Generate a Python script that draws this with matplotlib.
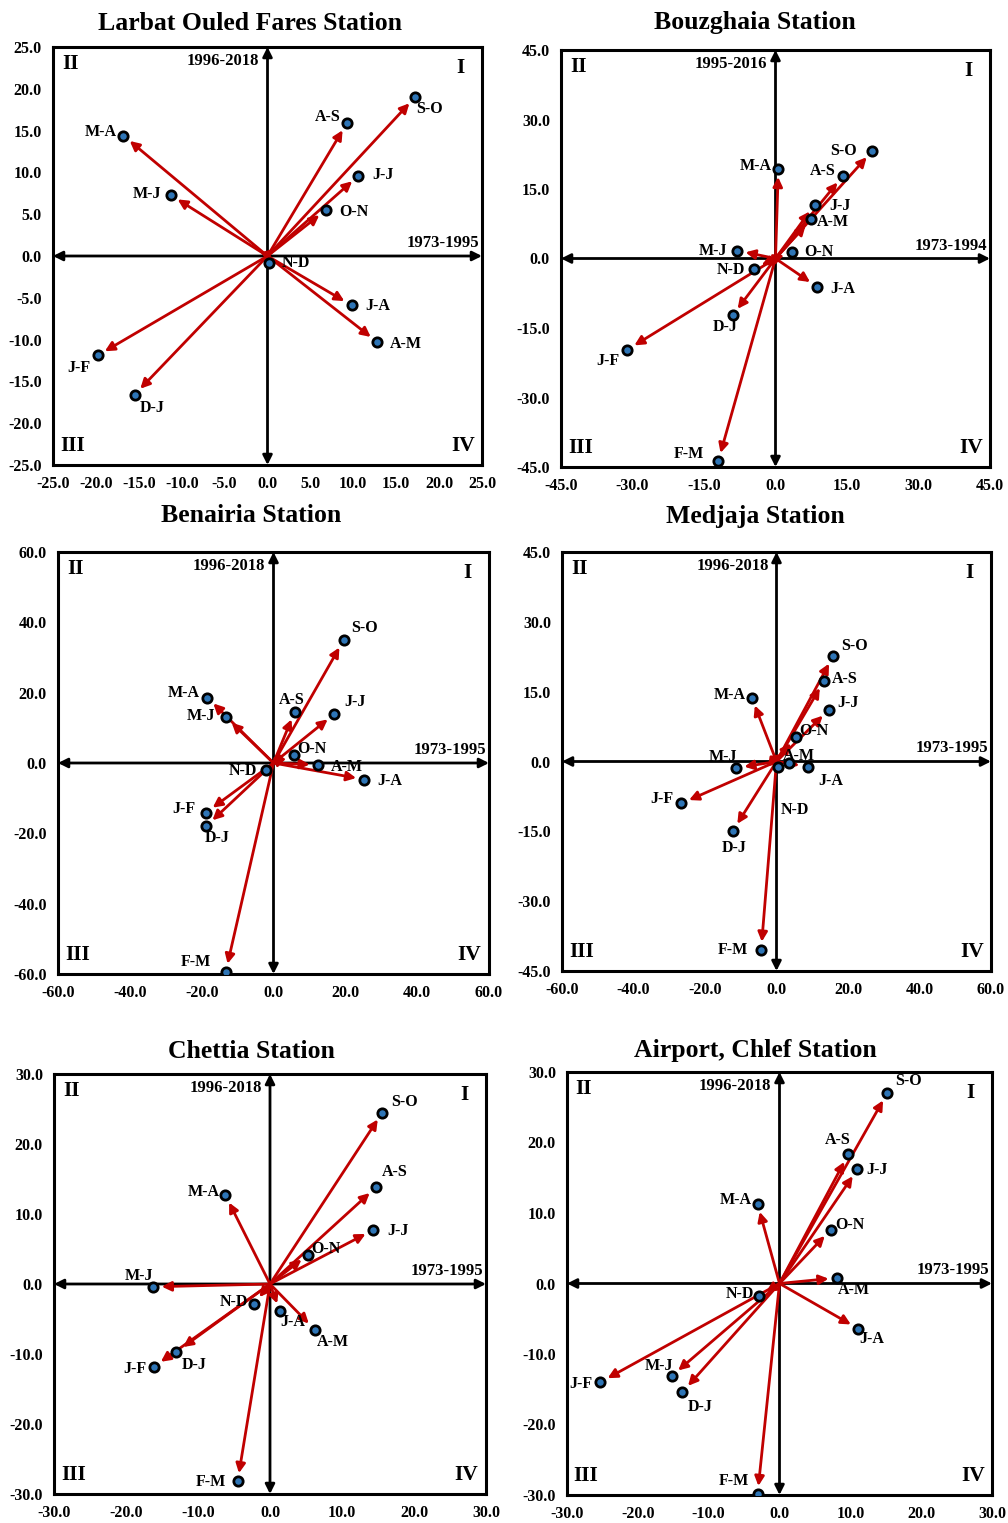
import numpy as np
import matplotlib.pyplot as plt

plt.rcParams['font.family'] = ['Liberation Serif', 'DejaVu Serif']
plt.rcParams['font.weight'] = 'bold'

# two-month pairs, change in 1973-1995 (x) vs later period (y)
larbat_pairs = ['J-F', 'M-A', 'A-M', 'M-J', 'J-J', 'J-A', 'A-S', 'S-O', 'O-N', 'N-D', 'D-J']
larbat_x = [-19.8, -16.8, 12.8, -11.3, 10.6, 9.8, 9.25, 17.2, 6.8, 0.2, -15.5]
larbat_y = [-11.9, 14.4, -10.3, 7.3, 9.6, -5.9, 15.9, 19.0, 5.5, -0.8, -16.6]

bouz_pairs = ['J-F', 'F-M', 'M-A', 'A-M', 'M-J', 'J-J', 'J-A', 'A-S', 'S-O', 'O-N', 'N-D', 'D-J']
bouz_x = [-31.1, -12.0, 0.6, 7.5, -8.0, 8.2, 8.7, 14.1, 20.3, 3.4, -4.5, -9.0]
bouz_y = [-19.7, -43.7, 19.4, 8.5, 1.7, 11.6, -6.1, 17.8, 23.2, 1.4, -2.2, -12.3]

bena_pairs = ['J-F', 'F-M', 'M-A', 'A-M', 'M-J', 'J-J', 'J-A', 'A-S', 'S-O', 'O-N', 'N-D', 'D-J']
bena_x = [-18.8, -13.3, -18.4, 12.4, -13.3, 16.9, 25.3, 5.9, 19.5, 5.7, -2.0, -18.7]
bena_y = [-14.1, -59.4, 18.6, -0.5, 13.1, 13.9, -4.7, 14.6, 34.9, 2.2, -1.9, -17.9]

medj_pairs = ['J-F', 'F-M', 'M-A', 'A-M', 'M-J', 'J-J', 'J-A', 'A-S', 'S-O', 'O-N', 'N-D', 'D-J']
medj_x = [-26.6, -4.3, -6.9, 3.6, -11.3, 14.6, 8.7, 13.3, 15.8, 5.4, 0.3, -12.2]
medj_y = [-9.0, -40.5, 13.7, -0.4, -1.4, 11.1, -1.1, 17.3, 22.6, 5.3, -1.2, -14.9]

chet_pairs = ['J-F', 'F-M', 'M-A', 'A-M', 'M-J', 'J-J', 'J-A', 'A-S', 'S-O', 'O-N', 'N-D', 'D-J']
chet_x = [-16.1, -4.5, -6.2, 6.2, -16.2, 14.3, 1.4, 14.7, 15.6, 5.3, -2.2, -13.0]
chet_y = [-11.8, -28.2, 12.7, -6.5, -0.4, 7.7, -3.9, 13.8, 24.5, 4.2, -2.8, -9.7]

chlef_pairs = ['J-F', 'F-M', 'M-A', 'A-M', 'M-J', 'J-J', 'J-A', 'A-S', 'S-O', 'O-N', 'N-D', 'D-J']
chlef_x = [-25.3, -3.1, -3.1, 8.1, -15.2, 11.0, 11.1, 9.7, 15.2, 7.2, -2.9, -13.7]
chlef_y = [-14.0, -29.9, 11.3, 0.8, -13.1, 16.2, -6.4, 18.3, 27.0, 7.6, -1.8, -15.4]

# label offsets in pixels (right, up)
larbat_off = {'J-F': (-19, -13), 'M-A': (-23, 4), 'A-M': (29, -2), 'M-J': (-24, 1),
              'J-J': (25, 1), 'J-A': (26, -1), 'A-S': (-19, 6), 'S-O': (14, -12),
              'O-N': (28, -2), 'N-D': (27, 0), 'D-J': (18, -13)}
bouz_off = {'J-F': (-19, -11), 'F-M': (-29, 7), 'M-A': (-23, 3), 'A-M': (22, -3),
            'M-J': (-24, 0), 'J-J': (25, -1), 'J-A': (26, -2), 'A-S': (-20, 5),
            'S-O': (-29, 0), 'O-N': (27, 0), 'N-D': (-23, -1), 'D-J': (-7, -12)}
bena_off = {'J-F': (-22, 4), 'F-M': (-30, 10), 'M-A': (-24, 5), 'A-M': (29, -2),
            'M-J': (-25, 1), 'J-J': (21, 12), 'J-A': (25, -1), 'A-S': (-3, 12),
            'S-O': (21, 12), 'O-N': (18, 6), 'N-D': (-23, -1), 'D-J': (11, -12)}
medj_off = {'J-F': (-20, 4), 'F-M': (-28, 0), 'M-A': (-22, 3), 'A-M': (9, 7),
            'M-J': (-13, 11), 'J-J': (19, 7), 'J-A': (23, -14), 'A-S': (21, 2),
            'S-O': (22, 10), 'O-N': (18, 6), 'N-D': (17, -43), 'D-J': (1, -17)}
chet_off = {'J-F': (-19, -2), 'F-M': (-27, -1), 'M-A': (-22, 3), 'A-M': (18, -13),
            'M-J': (-14, 11), 'J-J': (25, -1), 'J-A': (13, -11), 'A-S': (19, 15),
            'S-O': (22, 11), 'O-N': (18, 6), 'N-D': (-20, 2), 'D-J': (18, -13)}
chlef_off = {'J-F': (-19, -2), 'F-M': (-24, 13), 'M-A': (-22, 4), 'A-M': (17, -12),
             'M-J': (-13, 10), 'J-J': (20, -1), 'J-A': (14, -10), 'A-S': (-10, 14),
             'S-O': (21, 12), 'O-N': (19, 5), 'N-D': (-19, 2), 'D-J': (18, -15)}

W, H = 1008, 1523
fig = plt.figure(figsize=(W / 100, H / 100), dpi=100)


def panel(box, title, title_xy, pairs, xs, ys, offs, lim, step, ylim, ystep, ylab, xlab):
    l, t, r, b = box
    ax = fig.add_axes([l / W, 1 - b / H, (r - l) / W, (b - t) / H])
    ax.set_xlim(-lim, lim)
    ax.set_ylim(-ylim, ylim)
    ax.set_xticks(np.arange(-lim, lim + 0.01, step))
    ax.set_yticks(np.arange(-ylim, ylim + 0.01, ystep))
    ax.set_xticklabels([f'{v:.1f}' for v in ax.get_xticks()])
    ax.set_yticklabels([f'{v:.1f}' for v in ax.get_yticks()])
    ax.tick_params(length=0, labelsize=11.5, pad=8)
    for s in ax.spines.values():
        s.set_linewidth(2.2)
    fig.text(title_xy[0] / W, 1 - title_xy[1] / H, title, ha='center', va='center',
             fontsize=18.5, fontweight='bold')

    # black axes through the origin
    ax.annotate('', xy=(lim, 0), xytext=(-lim, 0),
                arrowprops=dict(arrowstyle='<|-|>', color='black', lw=2,
                                mutation_scale=14, shrinkA=0, shrinkB=0), zorder=2)
    ax.annotate('', xy=(0, ylim), xytext=(0, -ylim),
                arrowprops=dict(arrowstyle='<|-|>', color='black', lw=2,
                                mutation_scale=14, shrinkA=0, shrinkB=0), zorder=2)

    for x, y in zip(xs, ys):
        ax.annotate('', xy=(x, y), xytext=(0, 0),
                    arrowprops=dict(arrowstyle='-|>', color='#C00000', lw=2,
                                    mutation_scale=14, shrinkA=0, shrinkB=6), zorder=3)
    ax.scatter(xs, ys, s=45, color='#2E75B6', edgecolors='black', linewidths=2, zorder=4)
    for p, x, y in zip(pairs, xs, ys):
        dx, dy = offs[p]
        ax.annotate(p, (x, y), xytext=(dx, dy), textcoords='offset pixels',
                    ha='center', va='center', fontsize=11.5, fontweight='bold', zorder=5)

    ax.annotate(ylab, (0, ylim), xytext=(-8, -14), textcoords='offset pixels',
                ha='right', va='center', fontsize=12, fontweight='bold')
    ax.annotate(xlab, (lim, 0), xytext=(-3, 13), textcoords='offset pixels',
                ha='right', va='center', fontsize=12, fontweight='bold')
    for q, (fx, fy) in zip(['I', 'II', 'III', 'IV'],
                           [(0.95, 0.95), (0.04, 0.96), (0.045, 0.045), (0.955, 0.045)]):
        ax.text(fx, fy, q, transform=ax.transAxes, ha='center', va='center',
                fontsize=15.5, fontweight='bold')
    return ax


panel((53, 47, 482, 465), 'Larbat Ouled Fares Station', (250, 23), larbat_pairs,
      larbat_x, larbat_y, larbat_off, 25, 5, 25, 5, '1996-2018', '1973-1995')
panel((561, 50, 990, 467), 'Bouzghaia Station', (755, 23), bouz_pairs,
      bouz_x, bouz_y, bouz_off, 45, 15, 45, 15, '1995-2016', '1973-1994')
panel((58, 552, 489, 974), 'Benairia Station', (251, 516), bena_pairs,
      bena_x, bena_y, bena_off, 60, 20, 60, 20, '1996-2018', '1973-1995')
panel((562, 552, 991, 971), 'Medjaja Station', (755, 516), medj_pairs,
      medj_x, medj_y, medj_off, 60, 20, 45, 15, '1996-2018', '1973-1995')
panel((54, 1074, 486, 1494), 'Chettia Station', (251, 1051), chet_pairs,
      chet_x, chet_y, chet_off, 30, 10, 30, 10, '1996-2018', '1973-1995')
panel((567, 1072, 992, 1495), 'Airport, Chlef Station', (755, 1051), chlef_pairs,
      chlef_x, chlef_y, chlef_off, 30, 10, 30, 10, '1996-2018', '1973-1995')

fig.savefig('out.png', dpi=100)
